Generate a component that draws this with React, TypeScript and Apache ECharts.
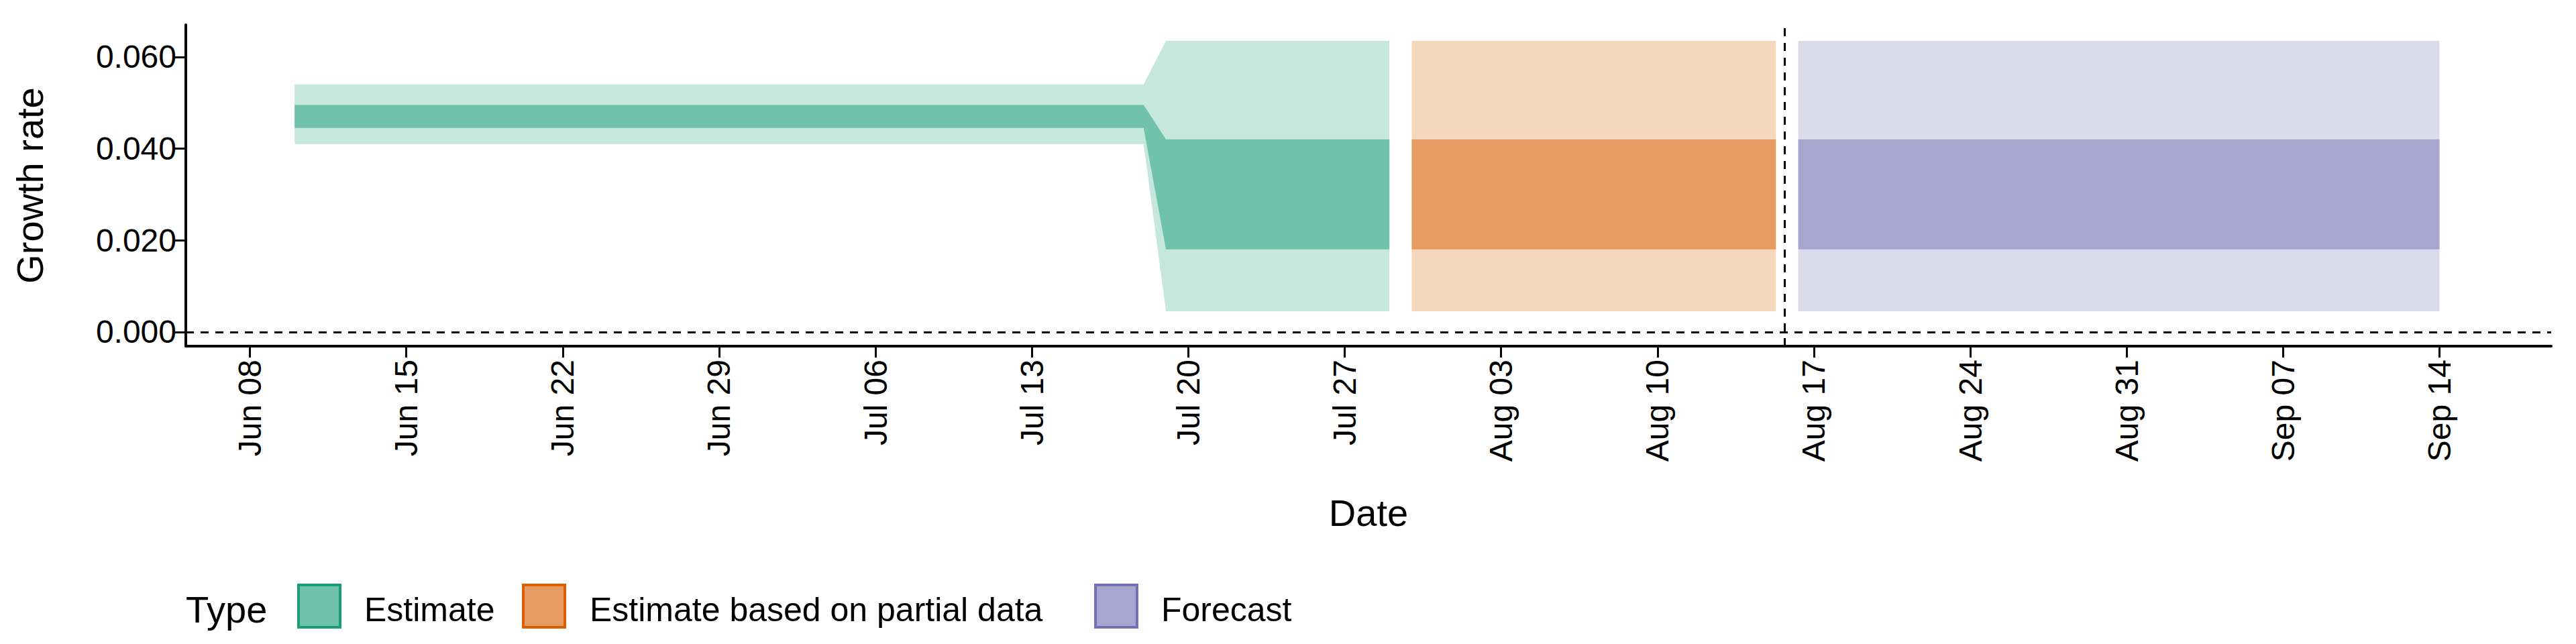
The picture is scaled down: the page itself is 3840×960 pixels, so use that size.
import React, { useEffect, useRef } from 'react';
import * as echarts from 'echarts';

// day offsets counted from Jun 08 (day 0)
const tickDays = [0, 7, 14, 21, 28, 35, 42, 49, 56, 63, 70, 77, 84, 91, 98];
const tickLabels = ['Jun 08', 'Jun 15', 'Jun 22', 'Jun 29', 'Jul 06', 'Jul 13', 'Jul 20', 'Jul 27', 'Aug 03', 'Aug 10', 'Aug 17', 'Aug 24', 'Aug 31', 'Sep 07', 'Sep 14'];
const yTicks = [0, 0.02, 0.04, 0.06];

// Estimate: Jun 10 .. Jul 28
const estDays = [2, 40, 41, 51];
const estLo90 = [0.041, 0.041, 0.0045, 0.0045];
const estHi90 = [0.054, 0.054, 0.0635, 0.0635];
const estLo50 = [0.0445, 0.0445, 0.018, 0.018];
const estHi50 = [0.0495, 0.0495, 0.042, 0.042];
// Estimate based on partial data: Jul 29 .. Aug 15
const partDays = [52, 68.3];
const partLo90 = [0.0045, 0.0045];
const partHi90 = [0.0635, 0.0635];
const partLo50 = [0.018, 0.018];
const partHi50 = [0.042, 0.042];
// Forecast: Aug 16 .. Sep 14
const foreDays = [69.3, 98];
const foreLo90 = [0.0045, 0.0045];
const foreHi90 = [0.0635, 0.0635];
const foreLo50 = [0.018, 0.018];
const foreHi50 = [0.042, 0.042];

const cutoffDay = 68.7;

const typeNames = ['Estimate', 'Estimate based on partial data', 'Forecast'];
const lightColors = ['#c5e7dc', '#f5d7be', '#dcdbeb'];
const darkColors = ['#70c2aa', '#e69b62', '#a8a5cf'];
const borderColors = ['#1b9e77', '#d95f02', '#7570b3'];

const FONT = 'Liberation Sans';

// one ribbon drawn as a polygon through the axis scales
function band(days: number[], lo: number[], hi: number[], color: string): any {
  return {
    type: 'custom', silent: true,
    data: [0],
    renderItem: (_p: any, api: any) => {
      const top = days.map((d, i) => api.coord([d, hi[i]]));
      const bot = days.map((d, i) => api.coord([d, lo[i]])).reverse();
      return { type: 'polygon', shape: { points: [...top, ...bot] }, style: { fill: color } };
    },
  };
}

const App: React.FC = () => {
  const chartRef = useRef<HTMLDivElement>(null);

  useEffect(() => {
    if (!chartRef.current) return;
    const chart = echarts.init(chartRef.current, undefined, { renderer: 'svg' });

    const series: any[] = [
      band(estDays, estLo90, estHi90, lightColors[0]),
      band(estDays, estLo50, estHi50, darkColors[0]),
      band(partDays, partLo90, partHi90, lightColors[1]),
      band(partDays, partLo50, partHi50, darkColors[1]),
      band(foreDays, foreLo90, foreHi90, lightColors[2]),
      band(foreDays, foreLo50, foreHi50, darkColors[2]),
      {
        type: 'line', data: [], symbol: 'none',
        markLine: {
          silent: true, symbol: 'none', label: { show: false },
          lineStyle: { color: '#000', type: [12, 10], width: 3 },
          data: [{ yAxis: 0 }, { xAxis: cutoffDay }],
        },
      },
    ];

    const legend: any[] = [
      { type: 'text', left: 269, top: 872, style: { text: 'Type', font: `56px "${FONT}"`, fill: '#000' } },
    ];
    const boxX = [437, 772, 1625];
    const textX = [535, 871, 1723];
    typeNames.forEach((n, i) => {
      legend.push({
        type: 'rect', shape: { x: boxX[i], y: 864, width: 62, height: 63 },
        style: { fill: darkColors[i], stroke: borderColors[i], lineWidth: 4 },
      });
      legend.push({ type: 'text', left: textX[i], top: 876, style: { text: n, font: `50px "${FONT}"`, fill: '#000' } });
    });

    chart.setOption({
      animation: false,
      backgroundColor: '#fff',
      textStyle: { fontFamily: FONT },
      grid: { left: 269, right: 29, top: 29, bottom: 436, containLabel: false },
      xAxis: {
        type: 'value', min: -2.87, max: 103,
        name: 'Date', nameLocation: 'middle', nameGap: 220,
        nameTextStyle: { fontSize: 56, color: '#000', fontFamily: FONT },
        splitLine: { show: false },
        axisLine: { show: true, onZero: false, lineStyle: { color: '#000', width: 4 } },
        axisTick: { show: true, length: 17, lineStyle: { color: '#000', width: 3 }, customValues: tickDays },
        axisLabel: {
          customValues: tickDays, rotate: 90, fontSize: 48, color: '#000', margin: 20,
          formatter: (v: number) => tickLabels[tickDays.indexOf(Math.round(v))] ?? '',
        },
      },
      yAxis: {
        type: 'value', min: -0.0031, max: 0.067,
        name: 'Growth rate', nameLocation: 'middle', nameGap: 205,
        nameTextStyle: { fontSize: 56, color: '#000', fontFamily: FONT },
        splitLine: { show: false },
        axisLine: { show: true, onZero: false, lineStyle: { color: '#000', width: 4 } },
        axisTick: { show: true, length: 17, lineStyle: { color: '#000', width: 3 }, customValues: yTicks },
        axisLabel: {
          customValues: yTicks, fontSize: 48, color: '#000', margin: 14,
          formatter: (v: number) => v.toFixed(3),
        },
      },
      graphic: legend,
      series,
    });

    return () => chart.dispose();
  }, []);

  return <div ref={chartRef} style={{ width: 3824, height: 944 }} />;
};

export default App;
